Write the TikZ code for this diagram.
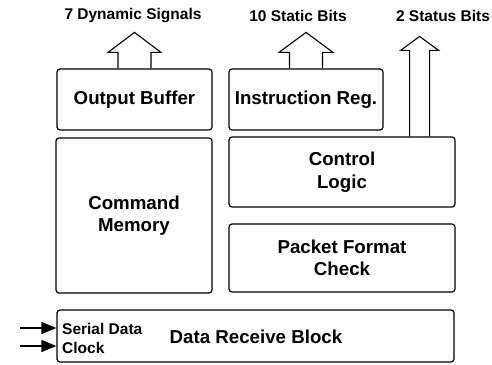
\documentclass[tikz,border=0pt]{standalone}
\usepackage{fontspec}
\setmainfont{Liberation Sans}
\usepackage{tikz}
\usetikzlibrary{arrows.meta}
\newcommand{\bigtxt}{\fontsize{18.7}{22.5}\selectfont\bfseries}
\newcommand{\smalltxt}{\fontsize{15.5}{18}\selectfont\bfseries}
% hollow arrow: start, half shaft, half head, shaft length, head length
\newcommand{\fatarrow}[5]{
	\draw [line width=1.1pt, line join=miter] (#1) ++(-#2,0) -- ++(0,-#4)
		-- ++({#2-#3},0) -- ++(#3,-#5) -- ++(#3,#5)
		-- ++({#2-#3},0) -- ++(0,#4);
}
\tikzset{
	block/.style = {draw, line width=1.2pt, rounded corners=3pt,
		align=center, inner sep=0pt, font=\bigtxt},
	sig/.style = {font=\smalltxt, inner sep=0pt}
}

\begin{document}
\begin{tikzpicture}[x=1pt, y=-1pt]
	\useasboundingbox (0,0) rectangle (492,364);
	\node [block, minimum width=155pt, minimum height=61pt] (1) at (134.5,99.5)
		{Output Buffer};
	\node [block, minimum width=154pt, minimum height=61pt] (2) at (306,99.5)
		{Instruction Reg.};
	\node [block, minimum width=156pt, minimum height=155pt] (3) at (134,215.5)
		{Command\\Memory};
	\node [block, minimum width=226pt, minimum height=70pt] (4) at (342,172)
		{Control\\Logic};
	\node [block, minimum width=226pt, minimum height=68pt] (5) at (342,258)
		{Packet Format\\Check};
	\node [block, minimum width=397pt, minimum height=52pt] (6) at (255.5,336) {};
	\node [font=\bigtxt, inner sep=0pt] (7) at (256,337) {Data Receive Block};
	\node [sig, anchor=west] (8) at (62,329) {Serial Data};
	\node [sig, anchor=west] (9) at (62,348) {Clock};
	\node [sig] (10) at (133,16) {7 Dynamic Signals};
	\node [sig] (11) at (298,16) {10 Static Bits};
	\node [sig] (12) at (443,16) {2 Status Bits};
	\coordinate (13) at (20,328);
	\coordinate (14) at (20,346);
	\coordinate (15) at ([xshift=-36pt]4.north east);
	\fatarrow{1.north}{16.5}{26.5}{16}{20}
	\fatarrow{2.north}{16.5}{27}{16}{20}
	\fatarrow{15}{10}{19}{86}{14}
	\draw [-{Triangle[length=15pt,width=12pt]}, line width=1.5pt] (13) to (13 -| 6.west);
	\draw [-{Triangle[length=15pt,width=12pt]}, line width=1.5pt] (14) to (14 -| 6.west);
\end{tikzpicture}
\end{document}
